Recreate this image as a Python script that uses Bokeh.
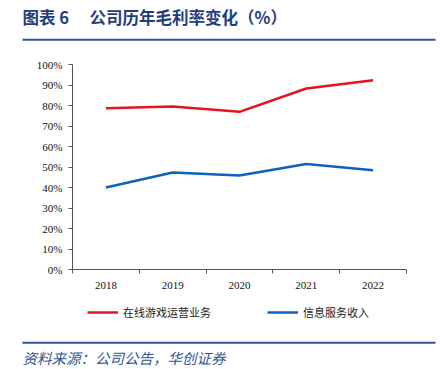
from bokeh.plotting import figure
from bokeh.layouts import column
from bokeh.models import (Label, BoxAnnotation, Legend, LegendItem, FixedTicker,
                          PrintfTickFormatter, Range1d, LinearAxis)
from bokeh.embed import file_html
from bokeh.resources import INLINE

years = ["2018", "2019", "2020", "2021", "2022"]
game_ops = [78.7, 79.5, 76.9, 88.3, 92.3]
info_service = [40.0, 47.3, 45.9, 51.5, 48.4]
series_names = ["在线游戏运营业务", "信息服务收入"]
y_ticks = [0, 10, 20, 30, 40, 50, 60, 70, 80, 90, 100]
title_a = "图表 6"
title_b = "公司历年毛利率变化（%）"
source = "资料来源：公司公告，华创证券"

W = 440
rule_color = "#2B5591"
title_color = "#1F3E7A"
axis_color = "#555555"
lab_font = "Liberation Serif"
red = "#E3141F"
blue = "#0A62BE"


def strip(height):
    f = figure(width=W, height=height, output_backend="svg", toolbar_location=None,
               x_range=Range1d(0, 1), y_range=Range1d(0, 1),
               min_border=0, x_axis_type=None, y_axis_type=None, frame_align=False)
    f.outline_line_color = None
    f.xgrid.visible = False
    f.ygrid.visible = False
    f.border_fill_color = "white"
    f.background_fill_color = "white"
    return f


# --- top strip: title + rule
top = strip(50)
top.add_layout(Label(x=22, y=34, x_units="screen", y_units="screen", text=title_a,
                     text_font="Noto Sans CJK SC", text_font_size="16.5px", text_font_style="bold",
                     text_color=title_color, text_baseline="middle"))
top.add_layout(Label(x=89, y=34, x_units="screen", y_units="screen", text=title_b,
                     text_font="Noto Sans CJK SC", text_font_size="16.5px", text_font_style="bold",
                     text_color=title_color, text_baseline="middle"))
top.add_layout(BoxAnnotation(left=22, right=435, bottom=9.7, top=11.7,
                             left_units="screen", right_units="screen",
                             bottom_units="screen", top_units="screen",
                             fill_color=rule_color, fill_alpha=1, line_color=None))

# --- main chart
xs = [i + 0.5 for i in range(len(years))]
p = figure(width=W, height=245, output_backend="svg", toolbar_location=None,
           x_range=Range1d(0, len(years)), y_range=Range1d(0, 100),
           min_border_left=72, min_border_right=34, min_border_top=14,
           min_border_bottom=26, x_axis_type=None, y_axis_type=None, frame_align=False)
p.outline_line_color = None
p.xgrid.visible = False
p.ygrid.visible = False
p.background_fill_color = "white"
p.border_fill_color = "white"

xaxis = LinearAxis(ticker=FixedTicker(ticks=xs, minor_ticks=list(range(len(years) + 1))),
                   major_label_overrides={x: y for x, y in zip(xs, years)})
xaxis.major_tick_out = 0
xaxis.major_tick_in = 0
xaxis.minor_tick_out = 4
xaxis.minor_tick_in = 0
xaxis.minor_tick_line_color = axis_color
xaxis.axis_line_color = axis_color
xaxis.major_label_standoff = 8
xaxis.major_label_text_font = lab_font
xaxis.major_label_text_font_size = "11px"
xaxis.major_label_text_color = "#111111"
p.add_layout(xaxis, "below")

yaxis = LinearAxis(ticker=FixedTicker(ticks=y_ticks, minor_ticks=[]),
                   formatter=PrintfTickFormatter(format="%d%%"))
yaxis.major_tick_out = 4
yaxis.major_tick_in = 0
yaxis.major_tick_line_color = axis_color
yaxis.axis_line_color = axis_color
yaxis.major_label_standoff = 6
yaxis.major_label_text_font = lab_font
yaxis.major_label_text_font_size = "11px"
yaxis.major_label_text_color = "#111111"
p.add_layout(yaxis, "left")

p.line(xs, game_ops, line_color=red, line_width=2.5)
p.line(xs, info_service, line_color=blue, line_width=2.5)

# --- bottom strip: legend + rule + source
bot = strip(74)
# legend keys: the same series, hidden in this strip, shown only as legend entries
k1 = bot.line(xs, game_ops, line_color=red, line_width=2.5, visible=False)
k2 = bot.line(xs, info_service, line_color=blue, line_width=2.5, visible=False)
legend = Legend(items=[LegendItem(label=series_names[0], renderers=[k1]),
                       LegendItem(label=series_names[1], renderers=[k2])],
                orientation="horizontal", location=(87, 47),
                padding=0, margin=0, spacing=56, glyph_width=31, glyph_height=20,
                label_standoff=5, border_line_color=None, background_fill_alpha=0,
                inactive_fill_alpha=0,
                label_text_font="Noto Sans CJK SC", label_text_font_size="11px",
                label_text_color="#222222")
bot.add_layout(legend, "center")
bot.add_layout(BoxAnnotation(left=22, right=435, bottom=25.7, top=27.7,
                             left_units="screen", right_units="screen",
                             bottom_units="screen", top_units="screen",
                             fill_color=rule_color, fill_alpha=1, line_color=None))
bot.add_layout(Label(x=22, y=12, x_units="screen", y_units="screen", text=source,
                     text_font="Noto Sans CJK SC", text_font_size="14.5px", text_font_style="italic",
                     text_color="#2E5596", text_baseline="middle"))

layout = column(top, p, bot, spacing=0)
open("out.html", "w").write(file_html(layout, INLINE))
